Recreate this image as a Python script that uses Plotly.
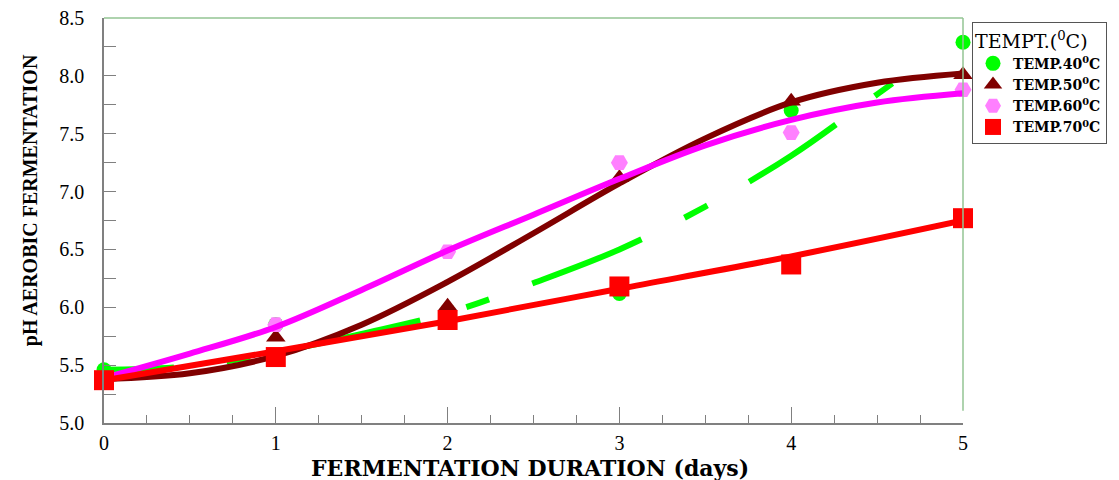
import plotly.graph_objects as go

# ---- data ----
days = [0, 1, 2, 3, 4, 5]
ph_40 = [5.46, 5.85, 5.97, 6.12, 7.70, 8.29]
ph_50 = [5.38, 5.74, 6.01, 7.12, 7.78, 8.01]
ph_60 = [5.38, 5.85, 6.48, 7.25, 7.51, 7.88]
ph_70 = [5.37, 5.57, 5.89, 6.18, 6.37, 6.77]

# fitted curves
fit_x_40 = [0, 0.5, 1.0, 1.5, 2.0, 2.5, 3.0, 3.5, 4.0, 4.5, 4.65]
fit_y_40 = [5.46, 5.49, 5.61, 5.77, 5.95, 6.21, 6.50, 6.87, 7.31, 7.84, 8.00]
fit_x = [0, 0.5, 1.0, 1.5, 2.0, 2.5, 3.0, 3.5, 4.0, 4.5, 5.0]
fit_y_50 = [5.38, 5.43, 5.58, 5.85, 6.22, 6.64, 7.07, 7.46, 7.77, 7.94, 8.02]
fit_y_60 = [5.39, 5.60, 5.83, 6.15, 6.49, 6.80, 7.11, 7.40, 7.62, 7.77, 7.85]
fit_x_70 = [0, 1, 2, 3, 4, 5]
fit_y_70 = [5.37, 5.62, 5.88, 6.16, 6.44, 6.75]

series_names = ["TEMP.40<sup>0</sup>C", "TEMP.50<sup>0</sup>C",
                "TEMP.60<sup>0</sup>C", "TEMP.70<sup>0</sup>C"]
y_ticks = [5.0, 5.5, 6.0, 6.5, 7.0, 7.5, 8.0, 8.5]
x_ticks = [0, 1, 2, 3, 4, 5]

GREEN = "#00ff00"
MAROON = "#800000"
MAGENTA = "#ff00ff"
PINK = "#ff80ff"
RED = "#ff0000"
GRAY = "#808080"
FRAME = "#93c493"

fig = go.Figure()

# markers (under the curves)
fig.add_trace(go.Scatter(x=days, y=ph_40, mode="markers", name=series_names[0],
                         marker=dict(symbol="circle", size=15, color=GREEN),
                         cliponaxis=False))
fig.add_trace(go.Scatter(x=days, y=ph_50, mode="markers", name=series_names[1],
                         marker=dict(symbol="triangle-up", size=17, color=MAROON),
                         cliponaxis=False))
fig.add_trace(go.Scatter(x=days, y=ph_60, mode="markers", name=series_names[2],
                         marker=dict(symbol="hexagon2", size=17, color=PINK),
                         cliponaxis=False))

# fitted curves
fig.add_trace(go.Scatter(x=fit_x_40, y=fit_y_40, mode="lines", showlegend=False,
                         line=dict(color=GREEN, width=6, shape="spline",
                                   dash="70px,53px,24px,48px,126px,48px,24px,46px,118px,48px,26px,48px,104px,48px,22px,300px"),
                         hoverinfo="skip"))
fig.add_trace(go.Scatter(x=fit_x, y=fit_y_50, mode="lines", showlegend=False,
                         line=dict(color=MAROON, width=6, shape="spline"),
                         hoverinfo="skip"))
fig.add_trace(go.Scatter(x=fit_x, y=fit_y_60, mode="lines", showlegend=False,
                         line=dict(color=MAGENTA, width=6, shape="spline"),
                         hoverinfo="skip"))
fig.add_trace(go.Scatter(x=fit_x_70, y=fit_y_70, mode="lines", showlegend=False,
                         line=dict(color=RED, width=6, shape="spline"),
                         hoverinfo="skip"))

fig.add_trace(go.Scatter(x=days, y=ph_70, mode="markers", name=series_names[3],
                         marker=dict(symbol="square", size=20, color=RED),
                         cliponaxis=False))

serif = "Liberation Serif"

fig.update_layout(
    width=1111, height=472,
    margin=dict(l=96, r=156, t=10, b=57, autoexpand=False),
    paper_bgcolor="white", plot_bgcolor="white",
    showlegend=True,
    legend=dict(
        x=1.0105, y=0.99, xanchor="left", yanchor="top",
        bordercolor="#555555", borderwidth=1, bgcolor="white",
        title=dict(text="TEMPT.(<sup>0</sup>C)",
                   font=dict(family="DejaVu Serif", size=19, color="black", weight="normal"),
                   side="top"),
        font=dict(family="DejaVu Serif", size=14, color="black", weight="bold"),
        itemsizing="trace", tracegroupgap=0,
    ),
    xaxis=dict(
        range=[0, 5], tickvals=x_ticks, ticktext=[str(v) for v in x_ticks],
        ticks="inside", ticklen=16, tickwidth=1, tickcolor=GRAY,
        minor=dict(dtick=0.25, ticks="inside", ticklen=8, tickcolor=GRAY, tickwidth=1),
        showline=True, linecolor=GRAY, linewidth=1.5,
        showgrid=False, zeroline=False,
        tickfont=dict(family=serif, size=20, color="black"),
        ticklabelstandoff=1, ticklabeloverflow="allow",
    ),
    yaxis=dict(
        range=[5, 8.5], tickvals=y_ticks, ticktext=["%.1f" % v for v in y_ticks],
        ticks="inside", ticklen=12, tickwidth=1, tickcolor=GRAY,
        minor=dict(dtick=0.25, ticks="inside", ticklen=12, tickcolor=GRAY, tickwidth=1),
        showline=True, linecolor=GRAY, linewidth=1.5,
        showgrid=False, zeroline=False,
        tickfont=dict(family=serif, size=20, color="black"),
        ticklabelstandoff=14, ticklabeloverflow="allow",
    ),
    shapes=[
        dict(type="line", xref="paper", yref="paper", x0=0, x1=1, y0=1, y1=1,
             line=dict(color=FRAME, width=1.5)),
        dict(type="line", xref="paper", yref="paper", x0=1, x1=1, y0=0.03, y1=1,
             line=dict(color=FRAME, width=1.5)),
    ],
    annotations=[
        dict(text="<b>FERMENTATION DURATION (days)</b>", xref="paper", yref="paper",
             x=0.496, y=-0.112, xanchor="center", yanchor="middle",
             showarrow=False, font=dict(family="DejaVu Serif", size=22, color="black")),
        dict(text="<b>pH AEROBIC FERMENTATION</b>", xref="paper", yref="paper",
             x=-0.0862, y=0.55, xanchor="center", yanchor="middle", textangle=-90,
             showarrow=False, font=dict(family=serif, size=20, color="black")),
    ],
)

fig.write_html("out.html")
